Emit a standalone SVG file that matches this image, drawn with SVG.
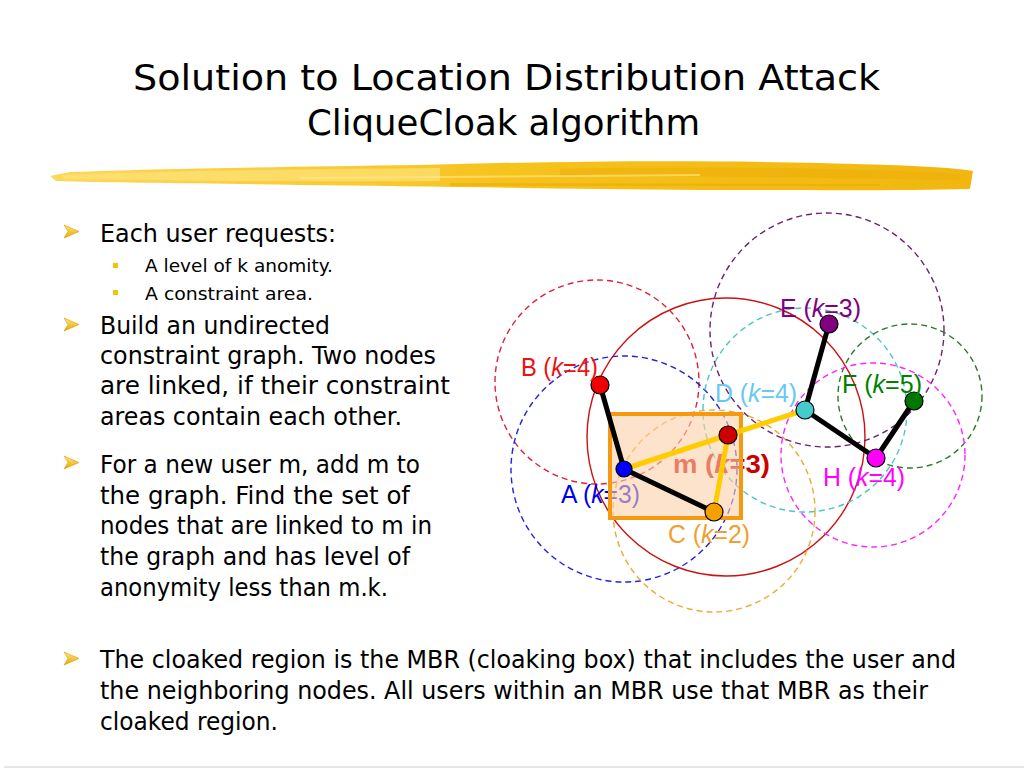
<svg xmlns="http://www.w3.org/2000/svg" width="1024" height="768" viewBox="0 0 1024 768">
<style>
.title{font-family:"DejaVu Sans","Liberation Sans",sans-serif;font-size:36px;fill:#000}
.body{font-family:"DejaVu Sans","Liberation Sans",sans-serif;font-size:24px;fill:#000}
.sub{font-family:"DejaVu Sans","Liberation Sans",sans-serif;font-size:18px;fill:#000}
.lbl{font-family:"Liberation Sans",Arial,sans-serif;font-size:25px}
.area{fill:none;stroke-width:1.4;stroke-dasharray:6 4}
.blk{stroke:#000;stroke-width:5;stroke-linecap:round}
.yel{stroke:#ffcc00;stroke-width:5;stroke-linecap:round}
.nd{stroke:#000;stroke-width:1.2}
</style>
<defs>
<linearGradient id="arrowg" x1="0" y1="0" x2="0" y2="1">
<stop offset="0" stop-color="#ffe680"/><stop offset="1" stop-color="#e8a800"/>
</linearGradient>
<linearGradient id="brush" x1="0" y1="0" x2="1" y2="0">
<stop offset="0" stop-color="#fcd85a"/><stop offset="0.5" stop-color="#f6c21c"/><stop offset="1" stop-color="#f1b70f"/>
</linearGradient>
<polygon id="arrow" points="0,0 15,6.5 0,13 4,6.5" fill="url(#arrowg)" stroke="#d89a00" stroke-width="0.6"/>
<rect id="sq" width="5" height="5" fill="#f5c400"/>
</defs>
<rect width="1024" height="768" fill="#fff"/>
<!-- title -->
<g id="title">
<text class="title" x="133" y="90" textLength="747" lengthAdjust="spacingAndGlyphs">Solution to Location Distribution Attack</text>
<text class="title" x="307" y="135" textLength="393" lengthAdjust="spacingAndGlyphs">CliqueCloak algorithm</text>
</g>
<!-- brush stroke -->
<g id="brushstroke">
<path d="M50,176 L70,172 C150,169 270,167 420,165 C560,161 700,160 820,163 C900,165 950,167 973,171 L970,189 C900,191 800,190 700,190 C560,189 420,186 300,185 C200,183 110,183 56,181 Z" fill="url(#brush)"/>
<path d="M62,175 C200,170 330,169 440,168 L440,181 C330,182 200,181 64,179 Z" fill="#fde27a" opacity="0.7"/>
<path d="M560,169 C700,166 850,168 960,174 L960,180 C850,178 700,176 560,176 Z" fill="#eeac08" opacity="0.5"/>
<path d="M300,177 L700,174 L700,176 L300,179 Z" fill="#ffe890" opacity="0.6"/>
<path d="M450,183 L880,184 L880,186 L450,186 Z" fill="#e9a800" opacity="0.5"/>
</g>
<!-- bullets text -->
<g id="bullets">
<use href="#arrow" x="64" y="225"/>
<text class="body" x="100" y="242" textLength="236" lengthAdjust="spacingAndGlyphs">Each user requests:</text>
<use href="#sq" x="113" y="263"/>
<text class="sub" x="145" y="272" textLength="188" lengthAdjust="spacingAndGlyphs">A level of k anomity.</text>
<use href="#sq" x="113" y="290"/>
<text class="sub" x="145" y="300" textLength="168" lengthAdjust="spacingAndGlyphs">A constraint area.</text>
<use href="#arrow" x="64" y="318"/>
<text class="body" x="100" y="334" textLength="230" lengthAdjust="spacingAndGlyphs">Build an undirected</text>
<text class="body" x="100" y="364" textLength="336" lengthAdjust="spacingAndGlyphs">constraint graph. Two nodes</text>
<text class="body" x="100" y="394" textLength="350" lengthAdjust="spacingAndGlyphs">are linked, if their constraint</text>
<text class="body" x="100" y="425" textLength="302" lengthAdjust="spacingAndGlyphs">areas contain each other.</text>
<use href="#arrow" x="64" y="456"/>
<text class="body" x="100" y="473" textLength="320" lengthAdjust="spacingAndGlyphs">For a new user m, add m to</text>
<text class="body" x="100" y="504" textLength="310" lengthAdjust="spacingAndGlyphs">the graph. Find the set of</text>
<text class="body" x="100" y="534" textLength="332" lengthAdjust="spacingAndGlyphs">nodes that are linked to m in</text>
<text class="body" x="100" y="565" textLength="310" lengthAdjust="spacingAndGlyphs">the graph and has level of</text>
<text class="body" x="100" y="596" textLength="288" lengthAdjust="spacingAndGlyphs">anonymity less than m.k.</text>
<use href="#arrow" x="64" y="652"/>
<text class="body" x="100" y="668" textLength="856" lengthAdjust="spacingAndGlyphs">The cloaked region is the MBR (cloaking box) that includes the user and</text>
<text class="body" x="100" y="699" textLength="828" lengthAdjust="spacingAndGlyphs">the neighboring nodes. All users within an MBR use that MBR as their</text>
<text class="body" x="100" y="730" textLength="178" lengthAdjust="spacingAndGlyphs">cloaked region.</text>
</g>
<!-- constraint areas -->
<g id="areas">
<circle cx="726" cy="437" r="139" fill="none" stroke="#cc1111" stroke-width="1.4"/>
<circle class="area" cx="597" cy="382" r="102" stroke="#e0203a"/>
<circle class="area" cx="624" cy="469" r="113" stroke="#2222dd"/>
<circle class="area" cx="714" cy="511" r="101" stroke="#eeaa33"/>
<circle class="area" cx="805" cy="410" r="102" stroke="#4cc6c6"/>
<circle class="area" cx="827" cy="330" r="117" stroke="#702070"/>
<circle class="area" cx="910" cy="396" r="72" stroke="#2a7a2a"/>
<circle class="area" cx="873" cy="455" r="92" stroke="#ff22ff"/>
</g>
<!-- labels under the MBR -->
<g id="label-m"><text class="lbl" x="673" y="473" fill="#cc0000" font-weight="bold" textLength="97" lengthAdjust="spacingAndGlyphs">m (<tspan font-style="italic">k</tspan>=3)</text></g>
<g id="label-A"><text class="lbl" x="561" y="503" fill="#0000ee" textLength="79" lengthAdjust="spacingAndGlyphs">A (<tspan font-style="italic">k</tspan>=3)</text></g>
<!-- MBR -->
<rect id="mbr" x="610" y="414" width="131" height="104" fill="#fbd0a8" fill-opacity="0.6" stroke="#f59a10" stroke-width="4"/>
<!-- connectors -->
<g id="connectors">
<line class="blk" x1="600" y1="385" x2="624" y2="469"/>
<line class="blk" x1="624" y1="469" x2="714" y2="512"/>
<line class="blk" x1="829" y1="324" x2="805" y2="410"/>
<line class="blk" x1="805" y1="410" x2="876" y2="458"/>
<line class="blk" x1="876" y1="458" x2="914" y2="401"/>
<line class="yel" x1="624" y1="469" x2="728" y2="435"/>
<line class="yel" x1="728" y1="435" x2="714" y2="512"/>
<line class="yel" x1="728" y1="435" x2="805" y2="410"/>
</g>
<!-- nodes -->
<g id="node-B"><circle class="nd" cx="600" cy="385" r="9" fill="#ee0000"/><text class="lbl" x="521" y="376" fill="#ee1111" textLength="77" lengthAdjust="spacingAndGlyphs">B (<tspan font-style="italic">k</tspan>=4)</text></g>
<g id="node-A"><circle class="nd" cx="624" cy="469" r="8" fill="#0000ff"/></g>
<g id="node-C"><circle class="nd" cx="714" cy="512" r="9" fill="#f5a000"/><text class="lbl" x="668" y="543" fill="#f0a030" textLength="82" lengthAdjust="spacingAndGlyphs">C (<tspan font-style="italic">k</tspan>=2)</text></g>
<g id="node-m"><circle class="nd" cx="728" cy="435" r="9" fill="#cc0000" stroke-width="0.5"/></g>
<g id="node-D"><circle class="nd" cx="805" cy="410" r="9" fill="#44cccc"/><text class="lbl" x="715" y="402" fill="#66c8f5" textLength="82" lengthAdjust="spacingAndGlyphs">D (<tspan font-style="italic">k</tspan>=4)</text></g>
<g id="node-E"><circle class="nd" cx="829" cy="324" r="9" fill="#800080"/><text class="lbl" x="780" y="317" fill="#800080" textLength="81" lengthAdjust="spacingAndGlyphs">E (<tspan font-style="italic">k</tspan>=3)</text></g>
<g id="node-F"><circle class="nd" cx="914" cy="401" r="9" fill="#007700"/><text class="lbl" x="842" y="393" fill="#008000" textLength="80" lengthAdjust="spacingAndGlyphs">F (<tspan font-style="italic">k</tspan>=5)</text></g>
<g id="node-H"><circle class="nd" cx="876" cy="458" r="9" fill="#ff00ff"/><text class="lbl" x="823" y="486" fill="#ff00ff" textLength="82" lengthAdjust="spacingAndGlyphs">H (<tspan font-style="italic">k</tspan>=4)</text></g>
<rect x="4" y="766" width="1020" height="2" fill="#e6e6e6"/>
</svg>
